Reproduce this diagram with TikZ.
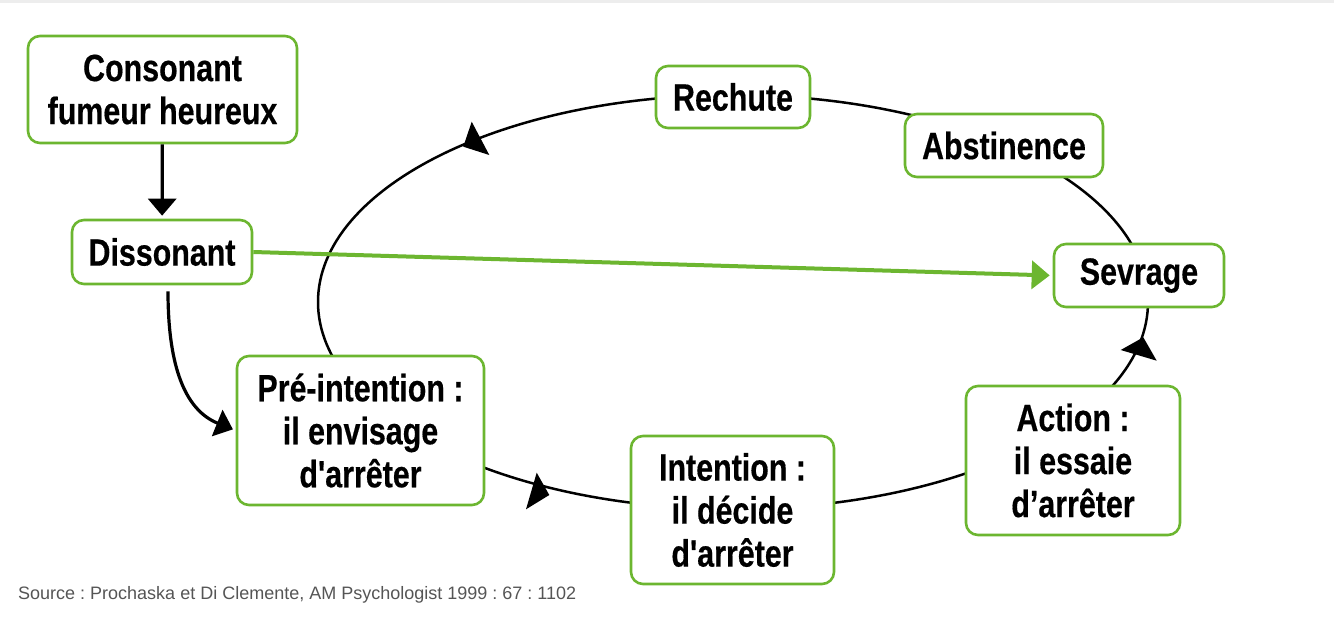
\documentclass[tikz,border=0pt]{standalone}
\usepackage{fontspec}
\setmainfont{Liberation Sans}
\newfontfamily\boxfont{Liberation Sans}[FakeStretch=0.8, FakeBold=0.4]
\usetikzlibrary{arrows.meta}
\frenchspacing
\definecolor{boxgreen}{RGB}{108,182,48}
\definecolor{srcgray}{RGB}{85,85,85}
\tikzset{
  stage/.style={draw=boxgreen, line width=2.6pt, rounded corners=12pt, fill=white,
    align=center, inner sep=0pt, text=black,
    font=\boxfont\bfseries\fontsize{38}{43}\selectfont},
  blkarrow/.style={line width=3.2pt, -{Triangle[length=17pt,width=28pt]}},
  greenarrow/.style={draw=boxgreen, line width=4pt, -{Triangle[length=18pt,width=28pt]}},
  cycleline/.style={line width=2.5pt},
  cyclehead/.style={fill=black}
}
\begin{document}
\begin{tikzpicture}[x=1pt,y=-1pt]
\useasboundingbox (0,0) rectangle (1334,619);
\fill[black!7] (0,0) rectangle (1334,3);
% cycle
\draw[cycleline] (733,302) ellipse [x radius=415, y radius=207];
\fill[cyclehead] (471.7,121.7) -- (463.3,146.7) -- (489.3,155) -- cycle;
\fill[cyclehead] (536.7,472.7) -- (526,509.3) -- (549.3,495) -- cycle;
\fill[cyclehead] (1143.3,337.3) -- (1120.7,350) -- (1156.7,360.7) -- cycle;
% boxes
\node[stage, minimum width=269pt, minimum height=107pt] (cons) at (162.5,89.5) {Consonant\\fumeur heureux};
\node[stage, minimum width=180pt, minimum height=64pt] (diss) at (162,252) {Dissonant};
\node[stage, minimum width=154pt, minimum height=62pt] (rech) at (733,97) {Rechute};
\node[stage, minimum width=198pt, minimum height=63pt] (abst) at (1004,145.5) {Abstinence};
\node[stage, minimum width=170pt, minimum height=63pt] (sevr) at (1139,275.5) {\raisebox{-2pt}{Sevrage}};
\node[stage, minimum width=247pt, minimum height=149pt] (pre) at (360.5,430.5) {Pré-intention :\\il envisage\\d'arrêter};
\node[stage, minimum width=203pt, minimum height=148pt] (int) at (732.5,510) {Intention :\\il décide\\d'arrêter};
\node[stage, minimum width=214pt, minimum height=149pt] (act) at (1073,460.5) {Action :\\il essaie\\d’arrêter};
% connectors
\draw[blkarrow, shorten >=3pt] (cons) -- (diss);
\draw[blkarrow, shorten <=6pt, shorten >=3pt] ([xshift=6pt]diss.south) to[out=-90, in=158] (pre.west);
\draw[greenarrow, shorten >=3pt] (diss.east) -- (sevr.west);
% source
\node[anchor=west, text=srcgray, font=\fontsize{18}{20}\selectfont, inner sep=0pt] (src) at (18,595) {Source : Prochaska et Di Clemente, AM Psychologist 1999 : 67 : 1102};
\end{tikzpicture}
\end{document}
